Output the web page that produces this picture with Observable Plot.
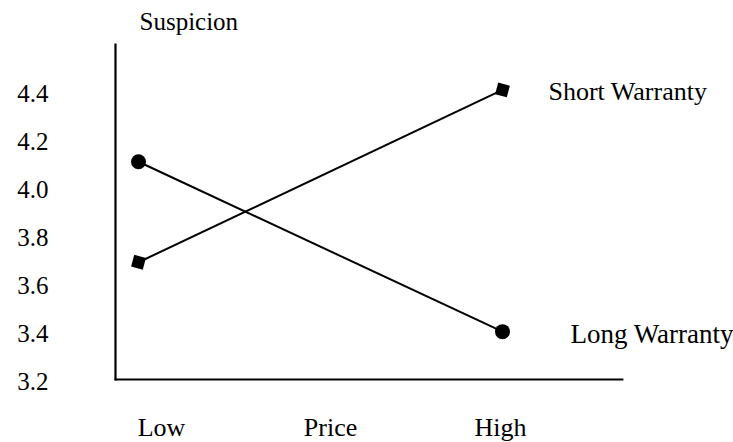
<!DOCTYPE html>
<html>
<head>
<meta charset="utf-8">
<script src="https://cdn.jsdelivr.net/npm/d3@7"></script>
<script src="https://cdn.jsdelivr.net/npm/@observablehq/plot@0.6"></script>
<style>
  html, body { margin: 0; padding: 0; background: #fff; }
  svg { font-family: "Liberation Serif", "Times New Roman", serif; }
</style>
</head>
<body>
<div id="chart"></div>
<script>
const priceLevels = ["Low", "High"];
const shortWarranty = [3.69, 4.41];
const longWarranty = [4.11, 3.40];
const yTicks = [3.2, 3.4, 3.6, 3.8, 4.0, 4.2, 4.4];
const xAxisLabels = ["Low", "Price", "High"];
const yTitle = "Suspicion";
const seriesNames = ["Short Warranty", "Long Warranty"];

const shortRows = priceLevels.map((p, i) => ({level: p, i, value: shortWarranty[i]}));
const longRows = priceLevels.map((p, i) => ({level: p, i, value: longWarranty[i]}));
const lastIdx = priceLevels.length - 1;

const chart = Plot.plot({
  width: 733,
  height: 442,
  marginLeft: 115,
  marginRight: 111,
  marginTop: 44,
  marginBottom: 63,
  style: {background: "#fff", color: "#000", fontFamily: "\"Liberation Serif\", serif"},
  x: {type: "linear", domain: [0, lastIdx], range: [138, 502], axis: null},
  y: {domain: [3.2, 4.6], axis: null},
  marks: [
    Plot.frame({anchor: "left", stroke: "#000", strokeWidth: 2.2, strokeOpacity: 1}),
    Plot.frame({anchor: "bottom", stroke: "#000", strokeWidth: 1.8, strokeOpacity: 1}),
    Plot.axisY({ticks: yTicks, tickSize: 0, tickPadding: 67, fontSize: 25, label: null, tickFormat: d => d.toFixed(1), dy: 2}),
    Plot.line(shortRows, {x: "i", y: "value", stroke: "#000", strokeWidth: 2}),
    Plot.line(longRows, {x: "i", y: "value", stroke: "#000", strokeWidth: 2}),
    Plot.dot(shortRows, {x: "i", y: "value", symbol: "square", r: 6.8, fill: "#000", rotate: 15}),
    Plot.dot(longRows, {x: "i", y: "value", symbol: "circle", r: 7.5, fill: "#000"}),
    Plot.text([shortRows[lastIdx]], {x: "i", y: "value", text: () => seriesNames[0], textAnchor: "start", dx: 46, dy: 2, fontSize: 26}),
    Plot.text([longRows[lastIdx]], {x: "i", y: "value", text: () => seriesNames[1], textAnchor: "start", dx: 68, dy: 3, fontSize: 27}),
    Plot.text([xAxisLabels[0]], {x: 0, frameAnchor: "bottom", dx: 23, dy: 56, fontSize: 26}),
    Plot.text([xAxisLabels[1]], {x: lastIdx / 2, frameAnchor: "bottom", dx: 10, dy: 56, fontSize: 26}),
    Plot.text([xAxisLabels[2]], {x: lastIdx, frameAnchor: "bottom", dx: -2, dy: 56, fontSize: 26}),
    Plot.text([yTitle], {frameAnchor: "top-left", dx: 24, dy: -32, fontSize: 25})
  ]
});
document.getElementById("chart").appendChild(chart);
</script>
</body>
</html>
